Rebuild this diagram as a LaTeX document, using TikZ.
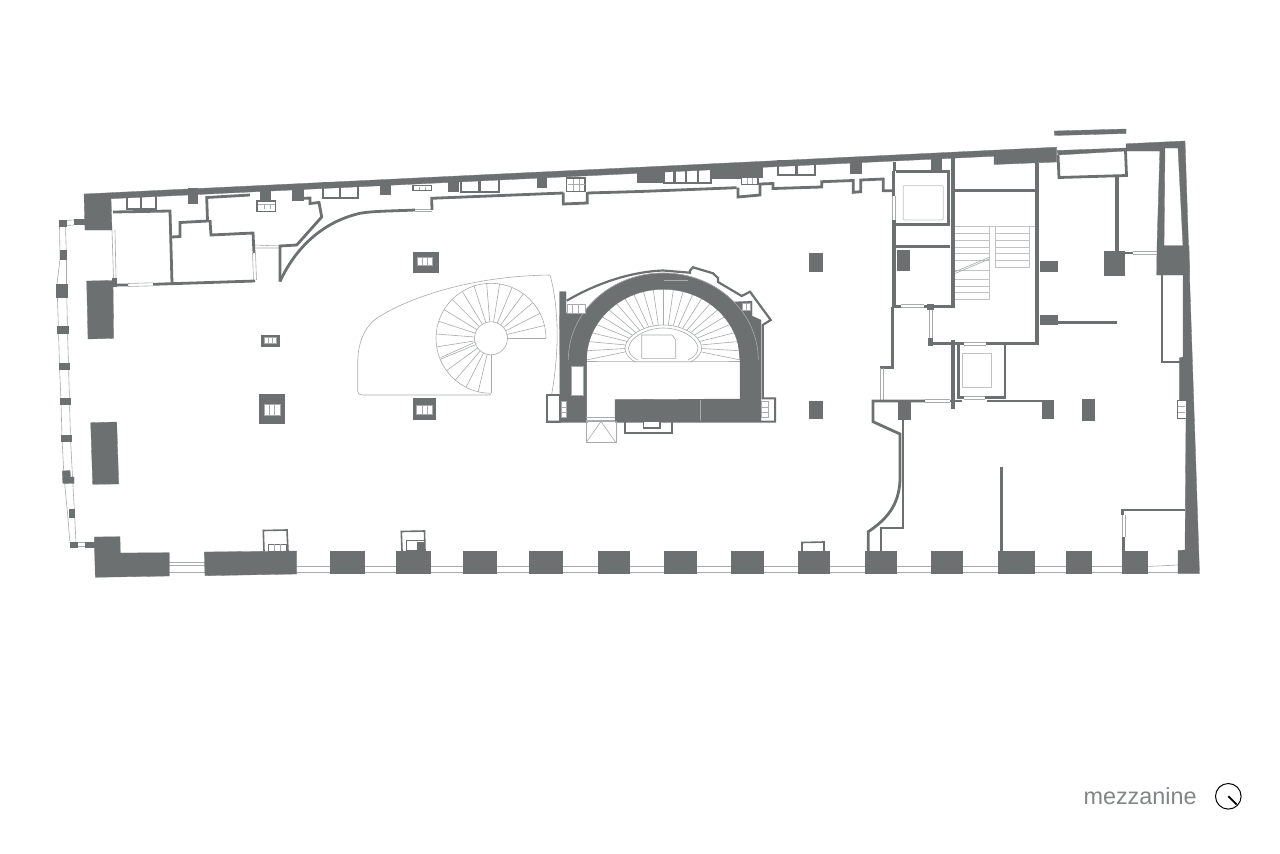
\documentclass[tikz,border=0pt]{standalone}
\usepackage{fontspec}
\setmainfont{Liberation Sans}
\usetikzlibrary{calc}
\definecolor{wallgrey}{HTML}{6C7070}
\definecolor{linegrey}{HTML}{A8ABAB}
\tikzset{
    wallfill/.style={fill=wallgrey, draw=wallgrey, line width=0.3pt},
    partition/.style={draw=wallgrey, line width=2.8pt, line join=miter},
    heavywall/.style={draw=wallgrey, line width=4pt},
    thinline/.style={draw=linegrey, line width=0.6pt},
    paleline/.style={draw=linegrey!70, line width=0.8pt},
    glassbay/.style={draw=linegrey, fill=white, line width=0.5pt},
    baybox/.style={draw=wallgrey, fill=white, line width=2pt},
}
\begin{document}
\begin{tikzpicture}[x=1pt,y=-1pt,>=stealth]
    \useasboundingbox (0,0) rectangle (1280,854);
    % west facade
    \draw[thinline] (59.5,226) -- (60,259) -- (57,284) -- (58.5,330) -- (59.5,366) -- (61,401) -- (62,438) -- (64,477) -- (67.5,513) -- (70,543);
    \draw[thinline] (65.5,226) -- (66.5,259) -- (66.5,284) -- (67.5,330) -- (68.5,366) -- (69.5,401) -- (70.5,438) -- (72.5,477) -- (74.5,513) -- (76,543);
    \draw[thinline] (66,220.5) -- (74,220) (66,225.5) -- (74,225);
    \draw[thinline] (76,542.5) -- (86,542.5) (76,546.5) -- (86,546.5);
    \foreach \xa/\ya/\xb/\yb in {59/220/66/226, 74/219/84/224, 60/250/66/259, 56/284/67/297, 57/326/68/333, 59/363/69/369, 60/398/70/404, 61/435/71/441, 69/509/74/517, 70/542/77/547, 85.5/542/95/547}
        \fill[wallfill] (\xa,\ya) rectangle (\xb,\yb);
    \fill[wallfill] (62.3,471) -- (70,470.5) -- (70.5,477) -- (74,477) -- (74,483.5) -- (62.8,483.3) -- cycle;
    % south wall and windows
    \draw[thinline] (169,562) -- (205,562) (169,565.5) -- (205,565.5);
    \draw[thinline] (169,572.5) -- (1178,572.5) (296,566.5) -- (1122,566.5) (1147,566.5) -- (1178,565);
    \fill[wallfill] (94.3,537) -- (120,536.7) -- (120.3,553) -- (169.3,552.7) -- (169.3,576) -- (95.3,577.3) -- cycle;
    \fill[wallfill] (204.3,552) -- (296.7,551) -- (296.7,574) -- (205,575.7) -- cycle;
    \foreach \xa/\xb in {330/364, 396/430, 463/496, 529/562, 598/629, 664/696, 731/763, 798/829, 864.7/895.7, 931/962, 998/1034, 1066/1091, 1122/1147}
        \fill[wallfill] (\xa,551) rectangle (\xb,573.5);
    % south closets
    \draw[draw=wallgrey, line width=1.6pt] (264,551) -- (263.3,530.5) -- (287,530) -- (288,551);
    \draw[draw=wallgrey, line width=1.6pt] (402,551) -- (401.3,531.5) -- (424.5,531) -- (425,551);
    \draw[draw=wallgrey, line width=1.6pt] (802,551) -- (802,542.5) -- (824,542) -- (824,551);
    \foreach \xa/\ya/\xb/\yb in {268.5/544/286/551, 406/540/424/550}
        \draw[draw=wallgrey, line width=1pt] (\xa,\ya) rectangle (\xb,\yb);
    \draw[thinline] (274,544) -- (274,551) (280,544) -- (280,551);
    \fill[wallfill] (417,542) rectangle (424,550);
    % east wall
    \fill[wallfill] (1185,141) -- (1199.5,573.5) -- (1178,573.5) -- (1178,550.5) -- (1185,550) -- (1186,418) -- (1186,400) -- (1179.3,400) -- (1179.3,358) -- (1183,357) -- (1183,246) -- (1178,148) -- (1165,148) -- (1160,151) -- (1126,151) -- (1126,143.8) -- cycle;
    \fill[wallfill] (1160,146) -- (1165,146) -- (1164,246) -- (1157,246) -- cycle;
    \fill[wallfill] (1157,245.7) -- (1189,245.7) -- (1189.5,275) -- (1156.7,275) -- cycle;
    \draw[partition] (1162,275) -- (1162,362) -- (1180,362);
    \draw[draw=wallgrey, fill=white, line width=1pt] (1177,400.5) rectangle (1186,418);
    \draw[thinline] (1178,406) -- (1185,406) (1178,412) -- (1185,412);
    \fill[wallfill] (1054.3,131) -- (1126,129) -- (1126,133.5) -- (1054.7,135.5) -- cycle;
    % north wall strip and its closets
    \foreach \xa/\ya/\xb/\yb in {127/194/155.5/208.5, 323/183/357.5/198, 461/179/498.5/192, 663.5/168/711/183, 778/161/815/175}
        \draw[baybox] (\xa,\ya) rectangle (\xb,\yb);
    \draw[partition, line width=2.2pt] (141,194) -- (141,208) (340,183) -- (340,198) (479.5,179) -- (479.5,192) (674.5,168) -- (674.5,183) (686,168) -- (686,183) (698,168) -- (698,183) (796.5,161) -- (796.5,175);
    \fill[wallfill] (84,194) -- (994,150.2) -- (1056.7,147.2) -- (1056.7,162) -- (994,164.5) -- (994,156.2) -- (111,198.7) -- (112,230) -- (85,230) -- cycle;
    \foreach \xa/\ya/\xb/\yb in {188/188/197/203, 260/186/270/199, 292.3/184/303.3/200, 380/180/390/194.3, 448.3/177/457.7/191, 536.7/173/546/186.7, 637/168/663.5/182, 711/164/753.5/178.3, 753/162/762/177, 850/157/861/172.7, 930.7/153.3/941/171}
        \fill[wallfill] (\xa,\ya) rectangle (\xb,\yb);
    \draw[wallfill] (1057,150.5) -- (1126,148) -- (1126,151) -- (1058,155) -- cycle;
    \draw[partition] (1058,155) -- (1059,177.5) -- (1126.5,175.5) -- (1125.5,151);
    \draw[partition, line width=3.2pt] (1117,177) -- (1117,252);
    % glazed bays on the north side
    \foreach \xa/\ya/\xb/\yb in {257/201/275.5/211.5, 413/185.5/431.5/190.5, 566.7/178/585/191.5, 741.7/177.5/758/184.7}{
        \draw[baybox, line width=1.4pt] (\xa,\ya) rectangle (\xb,\yb);
    }
    \draw[thinline] (258,204) -- (275,204) (264,204) -- (264,209) (270,204) -- (270,209);
    \draw[thinline] (419,186.5) -- (419,189.5) (425,186.5) -- (425,189.5);
    \draw[thinline] (567.5,184) -- (584.5,184) (573,179) -- (573,191) (579,179) -- (579,191);
    \draw[thinline] (747,178) -- (747,184) (752.5,178) -- (752.5,184);
    % north-west rooms
    \draw[partition] (250,195) -- (206.7,197.5) -- (207.5,221) -- (180,222.5) -- (180,236.5) -- (172,237);
    \draw[partition] (210,220) -- (211,235) -- (253,233) -- (254,253);
    \draw[partition] (113,212) -- (170,211) -- (172,283);
    \draw[partition] (113,285) -- (128,285) (153,284.3) -- (255,281);
    \draw[thinline] (128,283.5) -- (153,282.8) (128,286.5) -- (153,285.8);
    \draw[thinline] (112,230) -- (113.5,278) (115,230) -- (116,278);
    \draw[thinline] (252.5,253) -- (253.5,280) (255.5,253) -- (256.5,280);
    \fill[wallfill] (112,278) rectangle (116,286);
    \fill[wallfill] (86.7,281) -- (113,280.5) -- (113.6,338.3) -- (88,339) -- cycle;
    \draw[thinline] (255,245) -- (280,246) (255,248) -- (280,248);
    \draw[partition] (280,281.5) -- (280,246) -- (296.7,245) -- (321.7,217) -- (319,202.5) -- (310,203.5) -- (310,198) -- (292,199);
    \draw[partition] (280,281.5) .. controls (293,253) and (318,223) .. (360,213.3) .. controls (372,211) and (395,211) .. (415,210);
    \draw[thinline] (415,209) -- (432,209) (415,211) -- (432,211);
    % inner north partition
    \draw[partition] (432,210) -- (431.7,198.3) -- (563.3,193) (587.3,193) -- (640,191.5) -- (736.7,187.7);
    \draw[partition] (563.3,192.5) -- (563.3,204) -- (587.3,203) -- (587.3,192);
    \draw[partition] (738,187.7) -- (738,197) -- (760,195) -- (760,184) -- (773,183.5) -- (773,188.5) -- (821.7,187) -- (821.7,181.7) -- (853.3,180.5) -- (853.3,192.3) -- (860.7,191.7) -- (860.7,180) -- (883.3,179) -- (883.3,190.7) -- (893,190.7);
    % free-standing piers
    \foreach \xa/\ya/\xb/\yb/\xc/\yc/\xd/\yd in {412.7/252.3/438.3/271.7/417.3/257.7/432.7/265.7, 412.7/398.3/435/419.3/416.7/405/432.7/414, 259.3/394.3/284/422.7/264.3/404/280/415, 261.5/335/279/346/264/337.5/276.5/343.5}{
        \fill[wallfill] (\xa,\ya) rectangle (\xb,\yb);
        \draw[glassbay] (\xc,\yc) rectangle (\xd,\yd);
        \pgfmathsetmacro{\xe}{\xc+(\xd-\xc)/3}
        \pgfmathsetmacro{\xf}{\xc+2*(\xd-\xc)/3}
        \draw[thinline] (\xe,\yc) -- (\xe,\yd) (\xf,\yc) -- (\xf,\yd);
    }
    \fill[wallfill] (90.7,422.7) -- (116.7,422) -- (118.7,484) -- (92.7,484.3) -- cycle;
    \foreach \xa/\ya/\xb/\yb in {809/253/822/271, 809/401/822/418, 897.3/250/909/270, 1041.7/400/1052.7/418.3, 1082.3/399.3/1094/420, 1104.3/251/1124.3/275, 1040/260.7/1057/270.7, 1040/315/1057/324.5, 898.3/400/910/419.3}
        \fill[wallfill] (\xa,\ya) rectangle (\xb,\yb);
    % spiral stair
    \coordinate (spiral) at (491,338.3);
    \draw[thinline] (spiral) circle [radius=16.5];
    \draw[thinline] ($(spiral)+(55,0)$) arc [start angle=0, end angle=-270, radius=55];
    \foreach \a in {0,13.5,...,270}
        \draw[thinline] ($(spiral)+(-\a:16.5)$) -- ($(spiral)+(-\a:55)$);
    \draw[thinline] ($(spiral)+(-194:17)$) -- ($(spiral)+(-201:54)$);
    \draw[thinline] (491,395) -- (362,395) .. controls (359,395) and (357.7,393.5) .. (357.7,391) -- (357.7,362) .. controls (358,338) and (368,322) .. (382,315) .. controls (410,298) and (470,276) .. (550,275) .. controls (555,292) and (558,320) .. (557,345) .. controls (556,365) and (554,382) .. (551.5,395);
    % rotunda
    \coordinate (rotunda) at (663.3,360);
    \coordinate (oval) at (663.3,352);
    \foreach \a in {0,7.5,...,180}
        \draw[thinline] ($(oval)+(-\a:38.3 and 27)$) -- ($(rotunda)+(-\a:77 and 71)$);
    \draw[fill=white, draw=linegrey, line width=0.6pt] (635,361.7) .. controls (628,358) and (625,353) .. (625,348) .. controls (626,335) and (645,325) .. (663.3,325) .. controls (682,325) and (701,335) .. (701.7,348) .. controls (701.7,353) and (698,358) .. (691,361.7) -- cycle;
    \draw[thinline] (638,360) .. controls (631,357) and (628.5,352) .. (628.5,348) .. controls (630,337) and (647,328) .. (663.3,328) .. controls (680,328) and (697,337) .. (698,348) .. controls (698,352) and (695,357) .. (688,360);
    \draw[thinline] (641.7,335) -- (672,335) -- (675.7,340) -- (675.7,358.3) -- (641.7,358.3) -- cycle;
    \draw[thinline] (586,361.5) -- (635,361.7) (691,361.7) -- (740,361.5);
    \fill[wallfill] (568.3,360) arc [start angle=180, end angle=360, x radius=95, y radius=87] -- (740,360) arc [start angle=0, end angle=-180, x radius=76.7, y radius=70.7] -- cycle;
    \fill[wallfill] (559.5,291.7) -- (566,291.7) -- (566,313) -- (586.6,313) -- (586.6,421) -- (560,421) -- cycle;
    \fill[wallfill] (734,302) -- (752,301) -- (752,316) -- (761,320) -- (761,421) -- (740,421) -- (740,360) -- cycle;
    \fill[wallfill] (615,399.5) -- (740,399) -- (740,421.5) -- (615,421.5) -- cycle;
    \draw[thinline] (568.3,360) arc [start angle=180, end angle=360, x radius=95, y radius=87];
    \draw[thinline] (700.5,399.5) -- (700.5,421) (664,280) -- (688,280);
    \draw[glassbay] (571,366) rectangle (583.3,395);
    \draw[glassbay] (567,304) rectangle (585,313);
    \draw[thinline] (572.5,304) -- (572.5,313) (578.5,304) -- (578.5,313);
    \draw[glassbay] (742,303.5) rectangle (750,310);
    \draw[thinline] (746,303.5) -- (746,310);
    \draw[glassbay] (561,401.7) rectangle (566,417.3);
    \draw[glassbay] (761,401.7) rectangle (768.3,417.3);
    \draw[thinline] (561,407) -- (566,407) (561,412) -- (566,412) (761,407) -- (768.3,407) (761,412) -- (768.3,412);
    \draw[partition, line width=2.2pt] (566.7,300.7) .. controls (590,287) and (625,272) .. (663,270.5) -- (690,272.7) -- (690,270.5) -- (693,267.3) -- (713,273.3) -- (718,278) -- (718,282) -- (741.7,296) -- (750,291.7) -- (770.7,320) -- (762.7,325) -- (762.7,398);
    \draw[partition, line width=2pt] (547.3,395) rectangle (560,421.7);
    \draw[partition, line width=2pt] (547.3,421.7) -- (588,421.7) (615,421.7) -- (775,421.5) -- (775,398.3) -- (761.7,398.3);
    \draw[partition, line width=2pt] (625,421.7) -- (625,432.7) -- (671.7,432.7) -- (671.7,421.7);
    \draw[baybox, line width=1.6pt] (643.3,421.7) -- (643.3,428) -- (660,428) -- (660,421.7);
    \draw[thinline] (586,417) -- (615,417) (586,420) -- (615,420);
    \draw[thinline] (586,421.5) rectangle (616,442.7);
    \draw[thinline] (586,442.7) -- (601,421.5) -- (616,442.7);
    % stair core
    \draw[heavywall] (952.5,158) -- (952.5,307);
    \draw[partition, line width=3pt] (955,190.7) -- (1035,190.7);
    \draw[heavywall] (1037,163) -- (1037,345);
    \draw[partition, line width=3.2pt] (930,343.5) -- (964,343.5) (986,343.5) -- (1039,343.5);
    \draw[thinline] (964,342) -- (986,342) (964,345) -- (986,345);
    \draw[paleline] (955,226.7) -- (1035,226.7);
    \draw[paleline] (989.3,226.7) -- (989.3,299.3) -- (955,299.3);
    \draw[paleline] (995.7,226.7) -- (995.7,267.3) -- (1029.3,267.3) -- (1029.3,226.7);
    \foreach \y in {233.5,240,247,253.5,260,270.5,279,286,292.5}
        \draw[paleline] (955,\y) -- (989.3,\y);
    \foreach \y in {233.5,240,247,253.5,260}
        \draw[paleline] (995.7,\y) -- (1029.3,\y);
    \draw[thinline] (955,271.7) -- (989.3,257.3) (955,273.5) -- (989.3,259);
    % lift block and rooms west of the stair
    \draw[partition, line width=3pt] (894.5,162) -- (894.5,171) (893,171) -- (893,196);
    \draw[heavywall] (893.7,220) -- (893.7,307);
    \draw[thinline] (892,196) -- (892,220) (895,196) -- (895,220);
    \draw[partition, line width=3pt] (896,171.7) -- (948,171.7) -- (948,224) -- (896,224);
    \draw[partition, line width=3pt] (896,246.7) -- (950,246.7);
    \draw[paleline, rounded corners=1pt] (903.3,185.7) rectangle (943.3,220);
    \draw[partition, line width=3pt] (894,306) -- (901,306) (924,306) -- (955,306);
    \draw[thinline] (901,304.5) -- (924,304.5) (901,307.5) -- (924,307.5);
    \draw[thinline] (929,308) -- (929,338) (932,308) -- (932,338);
    \fill[wallfill] (928.5,338) rectangle (932.5,345);
    \fill[wallfill] (927,304) rectangle (933,309);
    % lower lift
    \draw[heavywall] (952.5,340) -- (952.5,409);
    \draw[partition] (958.5,343) -- (958.5,398) (1005,343) -- (1005,398);
    \draw[partition] (957,397.5) -- (964,397.5) (985,397.5) -- (1006,397.5);
    \draw[thinline] (964,396) -- (985,396) (964,399) -- (985,399);
    \draw[paleline] (962.3,353.3) rectangle (991.7,387.7);
    % rooms south of the core
    \draw[partition] (892.5,307) -- (892.5,367.3) -- (880,367.3);
    \draw[thinline] (880,368) -- (880,400) (883,368) -- (883,400);
    \draw[partition] (925,401) -- (873,401) -- (873,421.7) -- (900,434) -- (900,480) .. controls (899,505) and (887,519) .. (868.3,531.7) -- (868.3,551);
    \draw[thinline] (925,399.5) -- (950,399.5) (925,402.5) -- (950,402.5);
    \draw[partition] (950,401) -- (961.7,401) (987.3,401) -- (1042,401);
    \draw[partition, line width=1.8pt] (903.3,419) -- (903.3,528.3) -- (880.7,528.3) -- (880.7,551);
    \draw[partition, line width=3.2pt] (1001.7,466.7) -- (1001.7,551);
    \draw[partition, line width=3.2pt] (1057,322.7) -- (1116.7,322.7);
    \draw[partition] (1185,510) -- (1122.8,510) -- (1122.8,515);
    \draw[thinline] (1122,515) -- (1122,537) (1125,515) -- (1125,537);
    \draw[partition] (1123.5,537) -- (1123.5,551);
    \draw[partition] (1124,253) -- (1133,253);
    \draw[thinline] (1133,251.5) -- (1157,251.5) (1133,254.5) -- (1157,254.5);
    % title and north mark
    \node[anchor=base west, inner sep=0pt, text=wallgrey!85, font=\fontsize{23.4}{26}\selectfont] (title) at (1083.3,804.3) {mezzanine};
    \coordinate (northmark) at (1228.3,796.3);
    \draw[black, line width=1pt] (northmark) circle [radius=12.8];
    \draw[black, line width=1.8pt] (northmark) -- ++(8.4,8.2);
\end{tikzpicture}
\end{document}
